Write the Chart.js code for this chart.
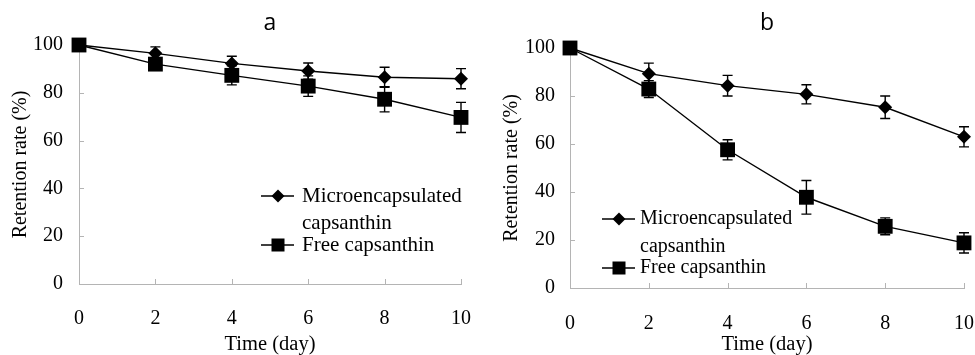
<!DOCTYPE html>
<html>
<head>
<meta charset="utf-8">
<script src="https://cdn.jsdelivr.net/npm/chart.js@4"></script>
<style>
  html, body { margin: 0; padding: 0; background: #ffffff; }
  #wrap { position: relative; width: 975px; height: 355px; overflow: hidden; }
  .box { position: absolute; top: 0; height: 355px; }
</style>
</head>
<body>
<div id="wrap">
  <div class="box" style="left:0;width:487px;"><canvas id="ca"></canvas></div>
  <div class="box" style="left:487px;width:488px;"><canvas id="cb"></canvas></div>
</div>
<script>
// ---- data ----
const days = [0, 2, 4, 6, 8, 10];
const seriesNames = ['Microencapsulated capsanthin', 'Free capsanthin'];
const panelTitles = ['a', 'b'];
const yTicks = [0, 20, 40, 60, 80, 100];
const xTicks = [0, 2, 4, 6, 8, 10];

const microA = [100, 96.5, 92.3, 89.1, 86.5, 85.9];
const microAErr = [0, 2.7, 3.0, 3.4, 4.2, 4.2];
const freeA = [100, 92.0, 87.3, 82.8, 77.3, 69.7];
const freeAErr = [0, 2.0, 4.0, 4.3, 5.3, 6.3];

const microB = [100, 89.3, 84.3, 80.7, 75.3, 63.0];
const microBErr = [0, 4.4, 4.3, 4.0, 4.7, 4.2];
const freeB = [100, 82.9, 57.6, 37.8, 25.7, 18.8];
const freeBErr = [0, 3.5, 4.2, 7.0, 3.5, 4.2];

// ---- helpers ----
const SERIF = '"Liberation Serif", "Times New Roman", serif';
const AXIS_GRAY = '#b4b4b4';

function pts(xs, ys) { return xs.map((x, i) => ({ x: x, y: ys[i] })); }

const errorBarPlugin = {
  id: 'errorBars',
  afterDatasetsDraw(chart) {
    const ctx = chart.ctx;
    const ys = chart.scales.y, xs = chart.scales.x;
    ctx.save();
    ctx.strokeStyle = '#000';
    ctx.lineWidth = 1.4;
    chart.data.datasets.forEach(ds => {
      (ds.errors || []).forEach((e, i) => {
        if (!e) return;
        const p = ds.data[i];
        const px = xs.getPixelForValue(p.x);
        const top = ys.getPixelForValue(p.y + e);
        const bot = ys.getPixelForValue(p.y - e);
        ctx.beginPath();
        ctx.moveTo(px, top); ctx.lineTo(px, bot);
        ctx.moveTo(px - 5, top); ctx.lineTo(px + 5, top);
        ctx.moveTo(px - 5, bot); ctx.lineTo(px + 5, bot);
        ctx.stroke();
      });
    });
    ctx.restore();
  }
};

const innerTicksPlugin = {
  id: 'innerTicks',
  beforeDatasetsDraw(chart) {
    const ctx = chart.ctx;
    const xs = chart.scales.x, ys = chart.scales.y;
    const a = chart.chartArea;
    ctx.save();
    ctx.strokeStyle = AXIS_GRAY;
    ctx.lineWidth = 1;
    ctx.beginPath();
    xs.ticks.forEach(t => {
      const px = Math.round(xs.getPixelForValue(t.value)) + 0.5;
      if (t.value === xs.min) return;
      ctx.moveTo(px, a.bottom); ctx.lineTo(px, a.bottom - 5);
    });
    ys.ticks.forEach(t => {
      const py = Math.round(ys.getPixelForValue(t.value)) + 0.5;
      if (t.value === ys.min) return;
      ctx.moveTo(a.left, py); ctx.lineTo(a.left + 5, py);
    });
    ctx.stroke();
    ctx.restore();
  }
};

const panelTitlePlugin = {
  id: 'panelTitle',
  afterDraw(chart, args, opts) {
    const ctx = chart.ctx;
    const a = chart.chartArea;
    ctx.save();
    ctx.fillStyle = '#000';
    ctx.font = '23px "Open Sans", sans-serif';
    ctx.textAlign = 'center';
    ctx.textBaseline = 'alphabetic';
    ctx.fillText(opts.text, (a.left + a.right) / 2, opts.baseline);
    ctx.restore();
  }
};

const insideLegendPlugin = {
  id: 'insideLegend',
  afterDraw(chart, args, opts) {
    const ctx = chart.ctx;
    const a = chart.chartArea;
    ctx.save();
    ctx.font = opts.fontSize + 'px ' + SERIF;
    ctx.textBaseline = 'middle';
    ctx.textAlign = 'left';
    let y = opts.y;
    const x0 = a.left + opts.dx;
    chart.data.datasets.forEach(ds => {
      ctx.strokeStyle = '#000';
      ctx.lineWidth = 1.4;
      ctx.beginPath();
      ctx.moveTo(x0, y); ctx.lineTo(x0 + 33, y);
      ctx.stroke();
      ctx.fillStyle = '#000';
      const cx = x0 + 17;
      if (ds.pointStyle === 'rectRot') {
        ctx.beginPath();
        ctx.moveTo(cx, y - 6.5); ctx.lineTo(cx + 6.5, y); ctx.lineTo(cx, y + 6.5); ctx.lineTo(cx - 6.5, y);
        ctx.closePath(); ctx.fill();
      } else {
        ctx.fillRect(cx - 6.5, y - 6.5, 13, 13);
      }
      const words = ds.label.split(' ');
      const lines = [];
      let cur = '';
      words.forEach(w => {
        const test = cur ? cur + ' ' + w : w;
        if (cur && ctx.measureText(test).width > opts.maxWidth) { lines.push(cur); cur = w; }
        else cur = test;
      });
      if (cur) lines.push(cur);
      lines.forEach((ln, k) => {
        ctx.fillText(ln, x0 + opts.textGap, y + k * opts.wrapGap);
      });
      y += (lines.length - 1) * opts.wrapGap + opts.entryGap;
    });
    ctx.restore();
  }
};

function makeChart(id, micro, microErr, free, freeErr, cfg) {
  return new Chart(document.getElementById(id), {
    type: 'line',
    data: {
      datasets: [
        {
          label: seriesNames[0],
          data: pts(days, micro),
          errors: microErr,
          borderColor: '#000', backgroundColor: '#000',
          borderWidth: 1.4,
          pointStyle: 'rectRot', pointRadius: 7,
          pointBackgroundColor: '#000', pointBorderWidth: 0,
          tension: 0, clip: false
        },
        {
          label: seriesNames[1],
          data: pts(days, free),
          errors: freeErr,
          borderColor: '#000', backgroundColor: '#000',
          borderWidth: 1.4,
          pointStyle: 'rect', pointRadius: 10.5,
          pointBackgroundColor: '#000', pointBorderWidth: 0,
          tension: 0, clip: false
        }
      ]
    },
    options: {
      responsive: true,
      maintainAspectRatio: false,
      animation: false,
      layout: { padding: { left: 0, right: cfg.padRight, top: cfg.padTop, bottom: 0 } },
      plugins: {
        legend: { display: false },
        tooltip: { enabled: false },
        panelTitle: { text: cfg.title, baseline: 30 },
        insideLegend: { dx: cfg.legDx, y: cfg.legY, maxWidth: 170, wrapGap: cfg.wrapGap, entryGap: cfg.entryGap, textGap: cfg.textGap, fontSize: cfg.legFont }
      },
      scales: {
        x: {
          type: 'linear', min: 0, max: 10,
          afterBuildTicks: s => { s.ticks = xTicks.map(v => ({ value: v })); },
          afterFit: s => { s.height = cfg.xHeight; s.paddingLeft = 0; s.paddingRight = 0; },
          grid: { display: false, drawTicks: false },
          border: { display: true, color: AXIS_GRAY, width: 1 },
          ticks: { color: '#000', font: { family: SERIF, size: 20 }, padding: cfg.xPad, maxRotation: 0 },
          title: { display: true, text: 'Time (day)', color: '#000', font: { family: SERIF, size: 20.5, lineHeight: 1 }, padding: { top: 0, bottom: 0 } }
        },
        y: {
          min: 0, max: 100,
          afterBuildTicks: s => { s.ticks = yTicks.map(v => ({ value: v })); },
          afterFit: s => { s.width = cfg.yWidth; s.paddingTop = 0; s.paddingBottom = 0; },
          grid: { display: false, drawTicks: false },
          border: { display: true, color: AXIS_GRAY, width: 1 },
          ticks: { color: '#000', font: { family: SERIF, size: 20 }, padding: cfg.yPad },
          title: { display: true, text: 'Retention rate (%)', color: '#000', font: { family: SERIF, size: 20, lineHeight: 1 }, padding: { top: cfg.yTitlePad, bottom: 0 } }
        }
      }
    },
    plugins: [errorBarPlugin, innerTicksPlugin, panelTitlePlugin, insideLegendPlugin]
  });
}

makeChart('ca', microA, microAErr, freeA, freeAErr, {
  title: panelTitles[0], padRight: 26, padTop: 45, xHeight: 71, yWidth: 79, yPad: 16, yTitlePad: 11,
  xPad: 23, legDx: 182, legY: 196, wrapGap: 27, entryGap: 22, textGap: 41, legFont: 21
});
makeChart('cb', microB, microBErr, freeB, freeBErr, {
  title: panelTitles[1], padRight: 11, padTop: 48, xHeight: 67, yWidth: 83, yPad: 15, yTitlePad: 15,
  xPad: 24, legDx: 32, legY: 219, wrapGap: 28, entryGap: 21, textGap: 38, legFont: 20
});
</script>
</body>
</html>
